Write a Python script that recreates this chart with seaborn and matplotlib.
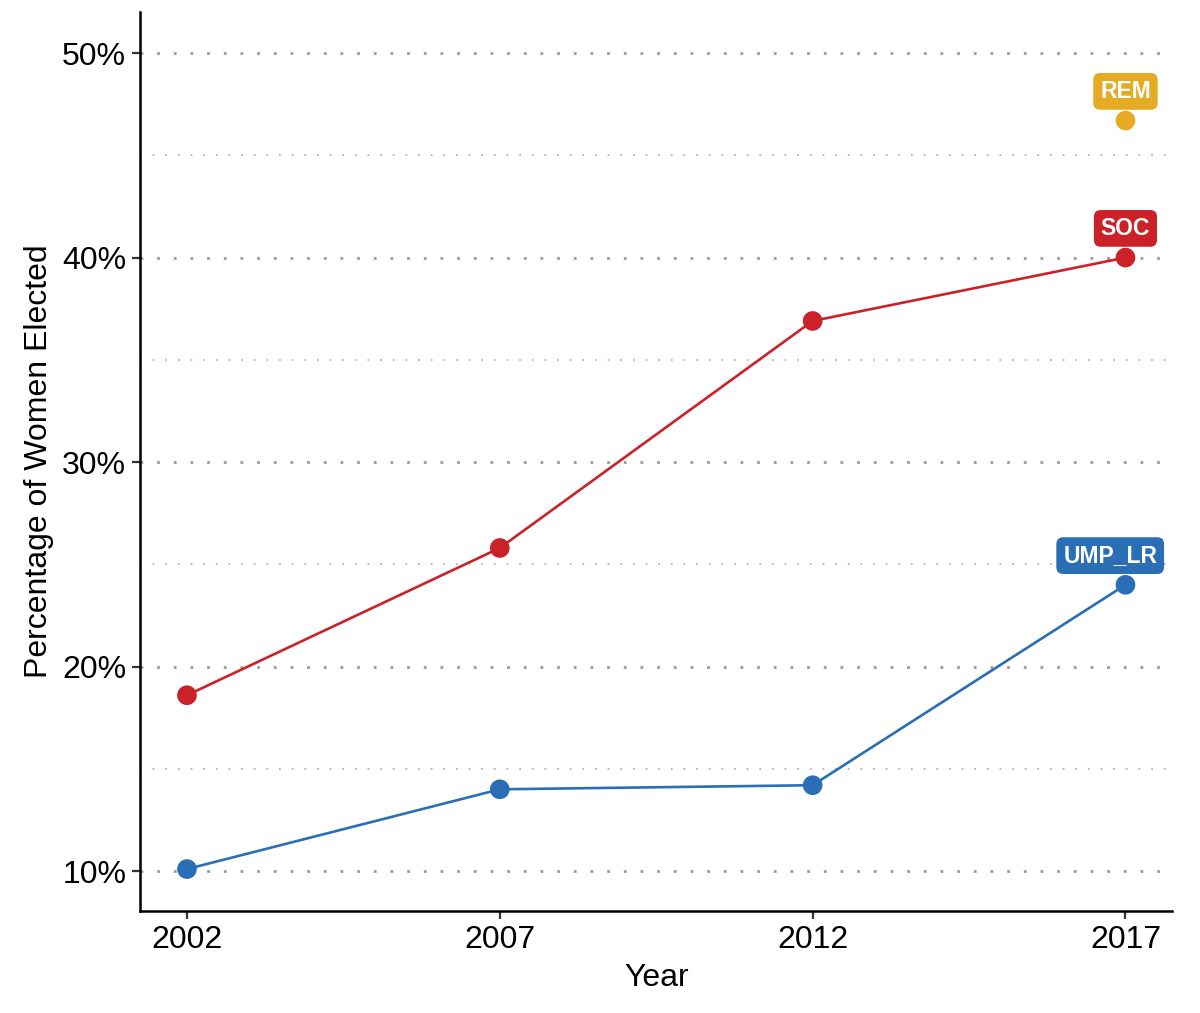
import pandas as pd
import seaborn as sns
import matplotlib.pyplot as plt
import matplotlib.ticker as mticker

# Share of women elected, by party and election year
years = [2002, 2007, 2012, 2017]
soc = [18.6, 25.8, 36.9, 40.0]
ump_lr = [10.1, 14.0, 14.2, 24.0]
rem_year = [2017]
rem = [46.7]

parties = ['SOC', 'UMP_LR', 'REM']
colors = {'SOC': '#CB2128', 'UMP_LR': '#2A6EB6', 'REM': '#E6AB24'}

df = pd.concat([
    pd.DataFrame({'year': years, 'pct': soc, 'party': 'SOC'}),
    pd.DataFrame({'year': years, 'pct': ump_lr, 'party': 'UMP_LR'}),
    pd.DataFrame({'year': rem_year, 'pct': rem, 'party': 'REM'}),
])

sns.set_style('white')
plt.rcParams['font.family'] = ['Liberation Sans', 'DejaVu Sans']

fig, ax = plt.subplots(figsize=(12, 10.13), dpi=100)
fig.subplots_adjust(left=0.1167, right=0.977, top=0.988, bottom=0.1007)

# grid first so lines sit on top
ax.set_axisbelow(True)
ax.yaxis.set_major_locator(mticker.MultipleLocator(10))
ax.yaxis.set_minor_locator(mticker.MultipleLocator(5))
ax.grid(which='major', axis='y', color='#9a9a9a', linestyle=(0, (1, 5)), linewidth=2)
ax.grid(which='minor', axis='y', color='#b5b5b5', linestyle=(0, (1, 6)), linewidth=1.3)

sns.lineplot(data=df, x='year', y='pct', hue='party', hue_order=parties,
             palette=colors, linewidth=1.9, legend=False, ax=ax, zorder=3)
sns.scatterplot(data=df, x='year', y='pct', hue='party', hue_order=parties,
                palette=colors, s=200, edgecolor='none', legend=False, ax=ax, zorder=4)

# labels above the last point of each party (UMP_LR nudged away from the edge)
nudge = {'SOC': 0, 'UMP_LR': -11, 'REM': 0}
last = df.groupby('party').tail(1)
for _, r in last.iterrows():
    ax.annotate(r['party'], (r['year'], r['pct']), xytext=(nudge[r['party']], 21),
                textcoords='offset points', ha='center', va='center',
                color='white', fontsize=16.5, fontweight='bold',
                bbox=dict(boxstyle='round,pad=0.3,rounding_size=0.3',
                          fc=colors[r['party']], ec='none'), zorder=5)

ax.set_xlim(2001.25, 2017.75)
ax.set_ylim(8.05, 52)
ax.set_xticks(years)
ax.yaxis.set_major_formatter(mticker.FuncFormatter(lambda v, p: f'{v:.0f}%'))

ax.set_xlabel('Year', fontsize=23, color='black', labelpad=6)
ax.set_ylabel('Percentage of Women Elected', fontsize=23, color='black', labelpad=6)
ax.tick_params(axis='both', which='major', labelsize=23, labelcolor='black',
               length=6, width=1.6, color='#333333', direction='out',
               left=True, bottom=True, pad=4)
ax.tick_params(axis='y', which='minor', length=0)

sns.despine(ax=ax)
for s in ['left', 'bottom']:
    ax.spines[s].set_linewidth(1.8)
    ax.spines[s].set_color('black')

fig.savefig('out.png', dpi=100)
